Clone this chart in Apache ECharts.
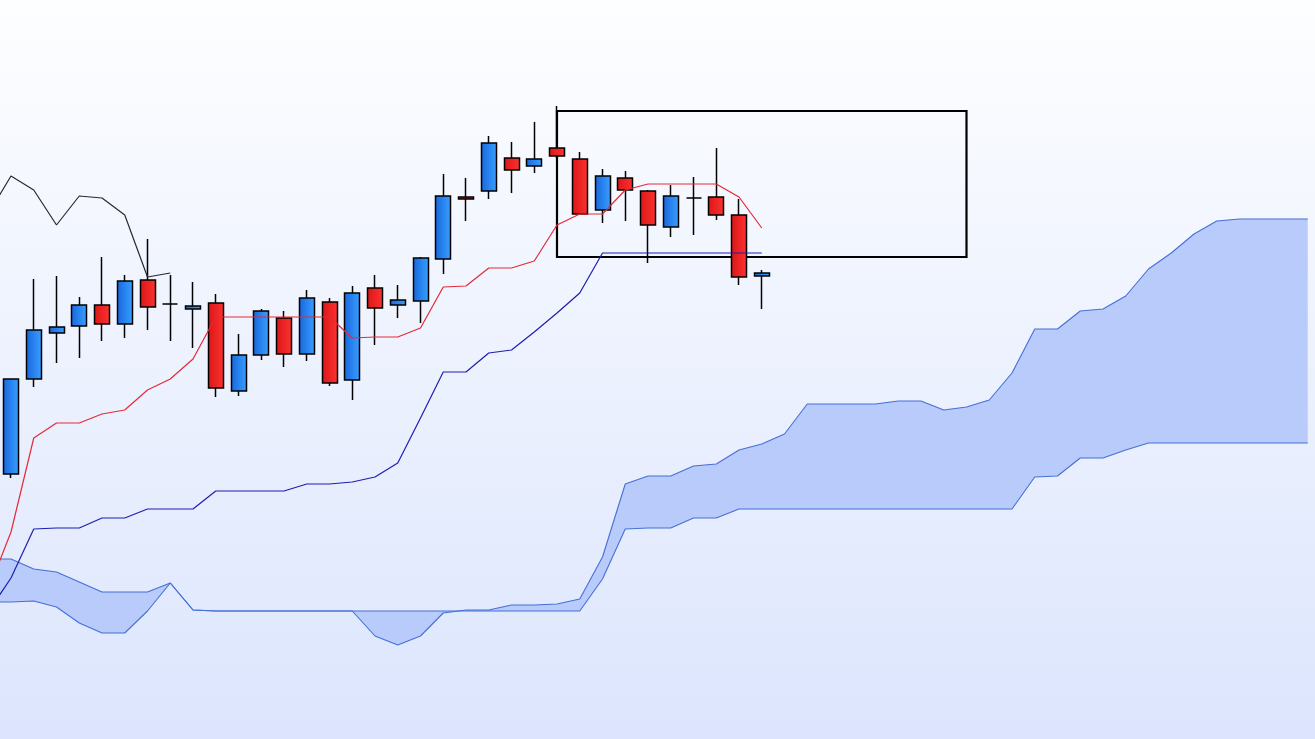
<!DOCTYPE html>
<html><head><meta charset="utf-8">
<script src="https://cdn.jsdelivr.net/npm/echarts@6/dist/echarts.min.js"></script>
<style>html,body{margin:0;padding:0;overflow:hidden;background:#fff}#chart{width:1315px;height:739px}</style>
</head><body><div id="chart"></div>
<script>
// periods shown: -1 .. 57 (period 0 = first candle)
const firstPeriod = -1, lastPeriod = 57;
const categories = [];
for (let p = firstPeriod; p <= lastPeriod; p++) categories.push('T' + p);

// candles, periods 0..33 : [open, close, low, high]
const candles = [
  [142.65,143.60,142.61,143.60],
  [143.60,144.09,143.52,144.60],
  [144.06,144.12,143.76,144.63],
  [144.13,144.34,143.81,144.42],
  [144.34,144.15,143.98,144.82],
  [144.15,144.58,144.01,144.64],
  [144.59,144.32,144.09,145.00],
  [144.35,144.35,143.98,144.64],
  [144.30,144.33,143.91,144.57],
  [144.36,143.51,143.42,144.45],
  [143.48,143.84,143.43,144.05],
  [143.84,144.28,143.79,144.30],
  [144.21,143.85,143.72,144.28],
  [143.85,144.41,143.78,144.49],
  [144.37,143.56,143.53,144.41],
  [143.59,144.46,143.39,144.53],
  [144.51,144.31,143.94,144.64],
  [144.34,144.39,144.21,144.54],
  [144.38,144.81,144.16,144.82],
  [144.80,145.43,144.65,145.65],
  [145.42,145.40,145.18,145.61],
  [145.48,145.96,145.40,146.03],
  [145.81,145.69,145.46,145.97],
  [145.73,145.80,145.66,146.17],
  [145.91,145.83,145.81,146.33],
  [145.80,145.25,145.25,145.87],
  [145.29,145.63,145.16,145.70],
  [145.61,145.49,145.18,145.68],
  [145.48,145.14,144.76,145.49],
  [145.12,145.43,145.02,145.54],
  [145.41,145.41,145.04,145.62],
  [145.42,145.24,145.19,145.91],
  [145.24,144.62,144.54,145.40],
  [144.63,144.66,144.30,144.69]
];

// Tenkan-sen, periods -1..33
const tenkan = [141.49,142.07,143.01,143.16,143.16,143.25,143.29,143.49,143.60,143.80,
  144.22,144.22,144.22,144.22,144.22,144.22,144.01,144.02,144.02,144.11,
  144.52,144.53,144.71,144.71,144.78,145.14,145.25,145.25,145.49,145.55,
  145.55,145.55,145.55,145.42,145.11];

// Kijun-sen, periods -1..33
const kijun = [141.27,141.61,142.10,142.11,142.11,142.21,142.21,142.30,142.30,142.30,
  142.48,142.48,142.48,142.48,142.55,142.55,142.57,142.62,142.76,143.21,
  143.67,143.67,143.86,143.89,144.07,144.26,144.46,144.86,144.86,144.86,
  144.86,144.86,144.86,144.86,144.86];

// Senkou span A, periods -1..57
const senkouA = [141.37,141.37,141.38,141.32,141.16,141.06,141.06,141.28,141.56,141.29,
  141.28,141.28,141.28,141.28,141.28,141.28,141.28,141.03,140.94,141.03,
  141.26,141.29,141.29,141.34,141.34,141.35,141.40,141.82,142.55,142.63,
  142.63,142.73,142.75,142.89,142.95,143.05,143.35,143.35,143.35,143.35,
  143.38,143.38,143.29,143.32,143.39,143.66,144.10,144.10,144.28,144.30,
  144.43,144.70,144.86,145.05,145.18,145.20,145.20,145.20,145.20];

// Senkou span B, periods -1..57
const senkouB = [141.80,141.80,141.70,141.67,141.57,141.47,141.47,141.47,141.56,141.29,
  141.28,141.28,141.28,141.28,141.28,141.28,141.28,141.28,141.28,141.28,
  141.28,141.28,141.28,141.28,141.28,141.28,141.28,141.60,142.10,142.11,
  142.11,142.21,142.21,142.30,142.30,142.30,142.30,142.30,142.30,142.30,
  142.30,142.30,142.30,142.30,142.30,142.30,142.62,142.63,142.81,142.81,
  142.89,142.96,142.96,142.96,142.96,142.96,142.96,142.96,142.96];

const chikouShift = 26;
// annotation rectangle (periods and prices)
const boxPeriods = [24, 42];
const boxPrices = [146.28, 144.82];

const idx = p => p - firstPeriod;

const candleData = candles.map((c, i) => [idx(i), c[0], c[1], c[2], c[3]]);
const tenkanData = tenkan.map((v, i) => [i, v]);
const kijunData = kijun.map((v, i) => [i, v]);
const spanAData = senkouA.map((v, i) => [i, v]);
const spanBData = senkouB.map((v, i) => [i, v]);
const chikouData = [];
candles.forEach((c, i) => {
  const p = i - chikouShift;
  if (p >= firstPeriod) chikouData.push([idx(p), c[1]]);
});

const blueGrad = {type:'linear', x:0, y:0, x2:1, y2:0, colorStops:[{offset:0,color:'#1766de'},{offset:1,color:'#3aa0ff'}]};
const redGrad = {type:'linear', x:0, y:0, x2:1, y2:0, colorStops:[{offset:0,color:'#d91616'},{offset:1,color:'#ff3232'}]};

const chart = echarts.init(document.getElementById('chart'), null, {renderer:'canvas'});
chart.setOption({
  animation: false,
  backgroundColor: {type:'linear', x:0, y:0, x2:0, y2:1, colorStops:[{offset:0,color:'#fdfeff'},{offset:1,color:'#dce5fd'}]},
  grid: {left: -23.125, right: -4.125, top: 0, bottom: 0, containLabel: false, outerBoundsMode: 'none'},
  xAxis: {type:'category', data: categories, boundaryGap: true, show: false},
  yAxis: {type:'value', min: 140, max: 147.39, show: false, splitLine:{show:false}},
  series: [
    {
      type: 'custom', z: 1, silent: true,
      data: [[0, senkouA[0]]],
      renderItem: function (params, api) {
        const pts = [];
        for (let j = 0; j < senkouA.length; j++) pts.push(api.coord([j, senkouA[j]]));
        for (let j = senkouB.length - 1; j >= 0; j--) pts.push(api.coord([j, senkouB[j]]));
        return {type:'polygon', shape:{points: pts}, style:{fill:'#b8cbfb', stroke:'none'}};
      }
    },
    {type:'line', z: 2, data: spanAData, symbol:'none', silent:true, lineStyle:{color:'#4570d6', width:1.1}},
    {type:'line', z: 2, data: spanBData, symbol:'none', silent:true, lineStyle:{color:'#4570d6', width:1.1}},
    {
      type: 'candlestick', z: 3,
      data: candleData,
      encode: {x: 0, y: [1, 2, 3, 4]},
      barWidth: 15.5,
      itemStyle: {color: blueGrad, color0: redGrad, borderColor:'#000', borderColor0:'#000', borderColorDoji:'#000', borderWidth:1.5},
      markArea: {
        silent: true,
        itemStyle: {color:'rgba(0,0,0,0)', borderColor:'#000', borderWidth:2.2},
        data: [[{coord:[idx(boxPeriods[0]), boxPrices[0]]}, {coord:[idx(boxPeriods[1]), boxPrices[1]]}]]
      }
    },
    {type:'line', z: 4, data: tenkanData, symbol:'none', silent:true, lineStyle:{color:'#e52a36', width:1.2}},
    {type:'line', z: 4, data: kijunData, symbol:'none', silent:true, lineStyle:{color:'#1e1eb2', width:1.2}},
    {type:'line', z: 4, data: chikouData, symbol:'none', silent:true, lineStyle:{color:'#2a2a2a', width:1.2}}
  ]
});
</script></body></html>
